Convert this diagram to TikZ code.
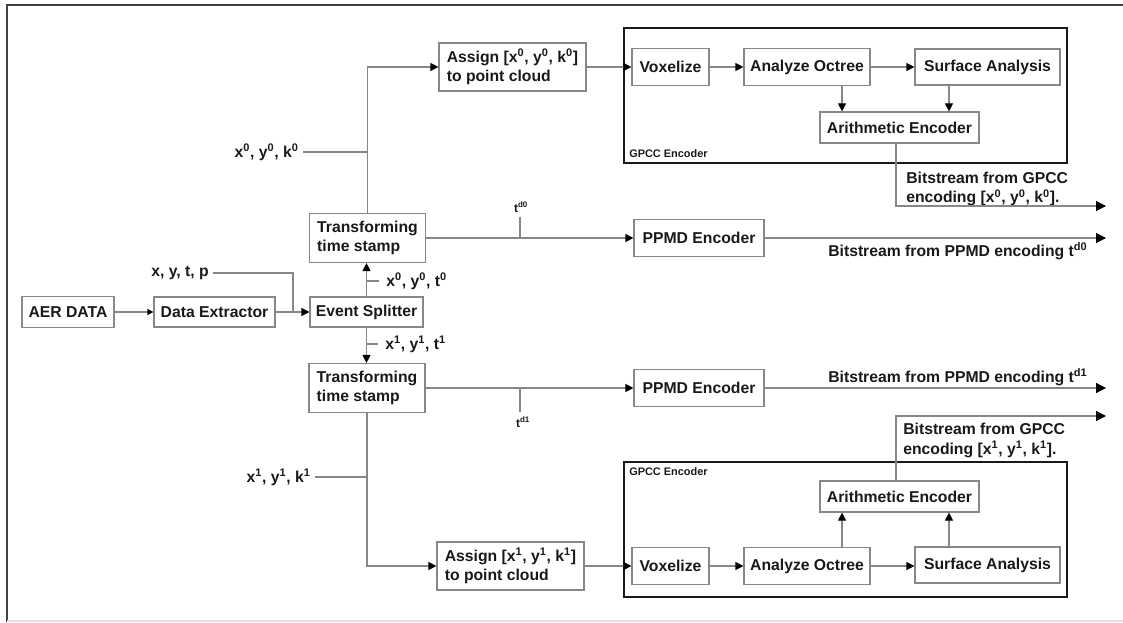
\documentclass[tikz,border=0pt]{standalone}
\usepackage{fontspec}
\setmainfont{Liberation Sans}
\usetikzlibrary{arrows.meta,calc}
\definecolor{lg}{RGB}{135,135,135}
\definecolor{tx}{RGB}{25,25,25}
\newcommand{\sps}[1]{\textsuperscript{#1}}
\begin{document}
\begin{tikzpicture}[x=0.75pt,y=-0.75pt,
  mainfont/.style={font=\bfseries\fontsize{11.8}{14.5}\selectfont,text=tx},
  box/.style={draw=lg,line width=0.9pt,inner sep=0pt,mainfont,align=left},
  lbl/.style={inner sep=0pt,mainfont,align=left},
  small/.style={inner sep=0pt,font=\bfseries\fontsize{8.2}{10}\selectfont,text=tx},
  tiny/.style={inner sep=0pt,font=\bfseries\fontsize{9}{10}\selectfont,text=tx},
  ln/.style={draw=lg,line width=0.9pt},
  arr/.style={ln,-{Triangle[length=6pt,width=6pt,color=black]}},
  sarr/.style={ln,-{Triangle[length=4.5pt,width=4.5pt,color=black]}},
  barr/.style={ln,-{Triangle[length=7.5pt,width=7.5pt,color=black]}},
  frame/.style={draw=black!90,line width=1.6pt}
]
\useasboundingbox (0,0) rectangle (1123,623);
% outer frame
\draw[draw=black!75,line width=1.5pt] (7,622) -- (7,5) -- (1123,5);
\draw[draw=black!12,line width=0.8pt] (7,621) -- (1123,621);

% left chain
\node[box,minimum width=69pt,minimum height=23.25pt] (aer) at (68,312) {AER DATA};
\node[box,minimum width=90.75pt,minimum height=22.5pt] (dex) at (214.5,312) {Data Extractor};
\node[box,minimum width=84.75pt,minimum height=22.5pt] (es) at (366.5,312) {Event Splitter};
\node[box,minimum width=87pt,minimum height=36.75pt] (tts0) at (367.5,238) {Transforming\\time stamp};
\node[box,minimum width=87pt,minimum height=36.75pt] (tts1) at (367,388) {Transforming\\time stamp};
\node[box,minimum width=110.25pt,minimum height=36pt] (as0) at (512.5,67) {Assign [x\sps{0}, y\sps{0}, k\sps{0}]\\to point cloud};
\node[box,minimum width=110.25pt,minimum height=36pt] (as1) at (510.5,566) {Assign [x\sps{1}, y\sps{1}, k\sps{1}]\\to point cloud};
\node[box,minimum width=97.5pt,minimum height=27.75pt] (pp0) at (699,238) {PPMD Encoder};
\node[box,minimum width=97.5pt,minimum height=27.75pt] (pp1) at (699,388) {PPMD Encoder};

% GPCC frames
\draw[frame] (624,28) rectangle (1067,163);
\draw[frame] (624,462) rectangle (1067,597);
\node[small,anchor=west] (g0) at (629,154) {GPCC Encoder};
\node[small,anchor=west] (g1) at (629,472) {GPCC Encoder};

% GPCC inner boxes (top)
\node[box,minimum width=57.75pt,minimum height=27.75pt] (vox0) at (670.5,67) {Voxelize};
\node[box,minimum width=94.5pt,minimum height=27.75pt] (ao0) at (807,67) {Analyze Octree};
\node[box,minimum width=108.75pt,minimum height=27pt] (sa0) at (987.5,67) {Surface Analysis};
\node[box,minimum width=119.25pt,minimum height=23.25pt] (ae0) at (899.5,127.5) {Arithmetic Encoder};
% GPCC inner boxes (bottom)
\node[box,minimum width=57.75pt,minimum height=27.75pt] (vox1) at (670.5,566) {Voxelize};
\node[box,minimum width=94.5pt,minimum height=27.75pt] (ao1) at (807,566) {Analyze Octree};
\node[box,minimum width=108.75pt,minimum height=27pt] (sa1) at (987.5,565) {Surface Analysis};
\node[box,minimum width=119.25pt,minimum height=23.25pt] (ae1) at (899.5,496.5) {Arithmetic Encoder};

% tap coordinates
\coordinate (xj) at (293,312);
\coordinate (cA) at (842,0);
\coordinate (cS) at (949,0);
\coordinate (cE) at (896,0);
\coordinate (out0g) at (1106,206);
\coordinate (out0p) at (1106,238);
\coordinate (out1p) at (1106,388);
\coordinate (out1g) at (1106,416);
\coordinate (tk0) at (520,217);
\coordinate (tk1) at (520,412);

% labels
\node[lbl,anchor=east] (xytp) at (209,273) {x, y, t, p};
\node[lbl,anchor=west] (l0t) at (386,281) {x\sps{0}, y\sps{0}, t\sps{0}};
\node[lbl,anchor=west] (l1t) at (385,344) {x\sps{1}, y\sps{1}, t\sps{1}};
\node[lbl,anchor=east] (l0k) at (299,152) {x\sps{0}, y\sps{0}, k\sps{0}};
\node[lbl,anchor=east] (l1k) at (311,477) {x\sps{1}, y\sps{1}, k\sps{1}};
\node[tiny,anchor=south] (td0) at (521,213) {t\sps{d0}};
\node[tiny,anchor=north] (td1) at (523,416) {t\sps{d1}};
\node[lbl,anchor=north west] (b0g) at (906,172) {Bitstream from GPCC\\encoding [x\sps{0}, y\sps{0}, k\sps{0}].};
\node[lbl,anchor=west] (b0p) at (828,251) {Bitstream from PPMD encoding t\sps{d0}};
\node[lbl,anchor=west] (b1p) at (828,377) {Bitstream from PPMD encoding t\sps{d1}};
\node[lbl,anchor=north west] (b1g) at (903,423) {Bitstream from GPCC\\encoding [x\sps{1}, y\sps{1}, k\sps{1}].};

% connectors left
\draw[sarr] (aer) -- (dex);
\draw[arr] (dex) -- (es);
\draw[ln] ([xshift=3pt]xytp.east) -| (xj);
\draw[arr] (es.north) -- (es.north |- tts0.south);
\draw[arr] (es.south) -- (es.south |- tts1.north);
\draw[ln] (es.north |- l0t.west) -- ([xshift=-5pt]l0t.west);
\draw[ln] (es.south |- l1t.west) -- ([xshift=-5pt]l1t.west);
\draw[arr] (tts0.north) |- (as0.west);
\draw[arr] (tts1.south) |- (as1.west);
\draw[ln] ([xshift=3pt]l0k.east) -- (tts0.north |- l0k.east);
\draw[ln] ([xshift=3pt]l1k.east) -- (tts1.south |- l1k.east);
\draw[arr] (tts0.east) -- (pp0.west);
\draw[arr] (tts1.east) -- (pp1.west);
\draw[ln] (tk0) -- (tk0 |- tts0.east);
\draw[ln] (tk1) -- (tk1 |- tts1.east);
\draw[barr] (pp0.east) -- (out0p);
\draw[barr] (pp1.east) -- (out1p);

% top GPCC
\draw[arr] (as0.east) -- (vox0.west);
\draw[arr] (vox0) -- (ao0);
\draw[arr] (ao0) -- (sa0);
\draw[arr] (ao0.south -| cA) -- (ae0.north -| cA);
\draw[arr] (sa0.south -| cS) -- (ae0.north -| cS);
\draw[barr] (ae0.south -| cE) |- (out0g);

% bottom GPCC
\draw[arr] (as1.east) -- (vox1.west);
\draw[arr] (vox1) -- (ao1);
\draw[arr] (ao1.east) -- (ao1.east -| sa1.west);
\draw[arr] (ao1.north -| cA) -- (ae1.south -| cA);
\draw[arr] (sa1.north -| cS) -- (ae1.south -| cS);
\draw[barr] (ae1.north -| cE) |- (out1g);
\end{tikzpicture}
\end{document}
